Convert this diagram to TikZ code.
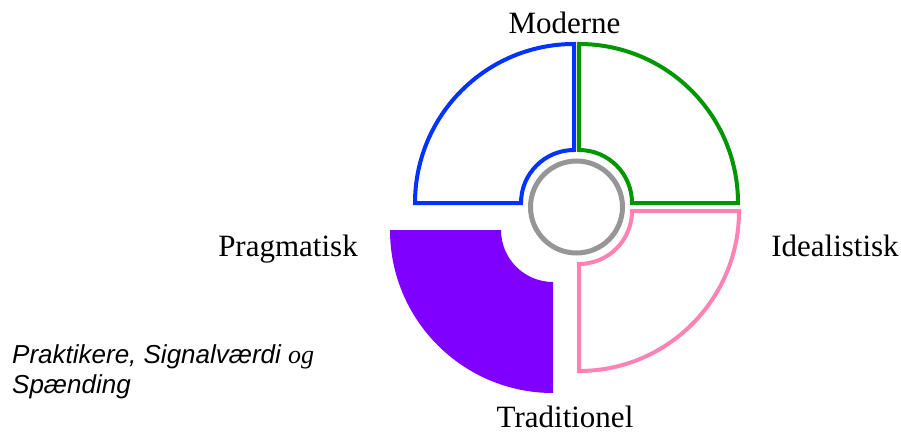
\documentclass[tikz,border=0pt]{standalone}
\usepackage{fontspec}
\setmainfont{Liberation Serif}
\setsansfont{Liberation Sans}
\usepackage{xcolor}
\usepackage{tikz}
\usetikzlibrary{positioning}
\definecolor{modblue}{RGB}{0,51,255}
\definecolor{idegreen}{RGB}{0,150,0}
\definecolor{trapink}{RGB}{255,130,180}
\definecolor{pragpurple}{RGB}{128,0,255}
\definecolor{ringgray}{RGB}{150,150,150}

\begin{document}
\begin{tikzpicture}[
    x=1pt, y=1pt,
    quadrant/.style={line width=4pt, line join=miter},
    axislabel/.style={font=\fontsize{31}{36}\selectfont, anchor=base, inner sep=0pt},
    note/.style={font=\sffamily\itshape\fontsize{26}{30}\selectfont, align=left, anchor=base west, inner sep=0pt}
]
\useasboundingbox (0,0) rectangle (901,432);

% the four quadrants
\draw[quadrant, draw=modblue, shift={(574,229)}]
    (0,53) -- (0,159) arc[start angle=90, end angle=180, radius=159]
    -- (-53,0) arc[start angle=180, end angle=90, radius=53] -- cycle;
\draw[quadrant, draw=idegreen, shift={(579,229)}]
    (0,53) -- (0,159) arc[start angle=90, end angle=0, radius=159]
    -- (53,0) arc[start angle=0, end angle=90, radius=53] -- cycle;
\draw[quadrant, draw=trapink, shift={(579,221)}]
    (0,-53) -- (0,-160) arc[start angle=270, end angle=360, radius=160]
    -- (53,0) arc[start angle=0, end angle=-90, radius=53] -- cycle;
\fill[pragpurple, shift={(553,202)}]
    (-52,0) -- (-163,0) arc[start angle=180, end angle=270, radius=163]
    -- (0,-52) arc[start angle=270, end angle=180, radius=52] -- cycle;

% centre ring
\draw[ringgray, line width=5pt] (576.5,225) circle[radius=46];

\node[axislabel] (moderne) at (564.5,398) {Moderne};
\node[axislabel] (pragmatisk) at (288,176) {Pragmatisk};
\node[axislabel] (idealistisk) at (835,176) {Idealistisk};
\node[axislabel] (traditionel) at (565,5) {Traditionel};

\node[note] (praktikere) at (12,39) {Praktikere, Signalværdi {\rmfamily og}\\Spænding};
\end{tikzpicture}
\end{document}
